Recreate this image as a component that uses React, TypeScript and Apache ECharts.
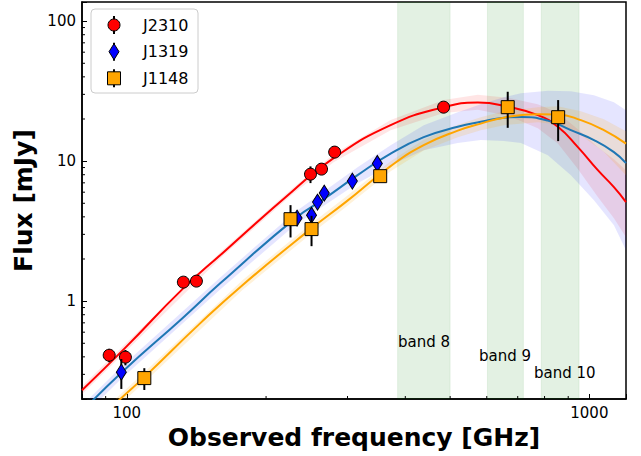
import React, { useEffect, useRef } from "react";
import * as echarts from "echarts";

// ---- axes ----
const X_MIN = 80;
const X_MAX = 1200;
const Y_MIN = 0.2;
const Y_MAX = 137;
const xTickLabels = ["100", "1000"];
const yTickLabels = ["1", "10", "100"];
const xMinorTicks = [90, 200, 300, 400, 500, 600, 700, 800, 900];
const yMinorTicks = [0.3, 0.4, 0.5, 0.6, 0.7, 0.8, 0.9, 2, 3, 4, 5, 6, 7, 8, 9, 20, 30, 40, 50, 60, 70, 80, 90];

// ---- ALMA bands ----
const almaBandNames = ["band 8", "band 9", "band 10"];
const almaBandLow = [385, 602, 787];
const almaBandHigh = [500, 720, 950];

// ---- observed points ----
const sourceNames = ["J2310", "J1319", "J1148"];

const j2310Freq = [91.6, 99.3, 132.5, 141.4, 249.5, 263.6, 281.4, 484];
const j2310Flux = [0.411, 0.398, 1.367, 1.39, 8.07, 8.77, 11.6, 24.3];
const j2310Err = [0.045, 0.05, 0.05, 0.05, 1.1, 0.5, 0.6, 1.0];

const j1319Freq = [97.3, 233.4, 250.8, 258.4, 267.2, 307.3, 348];
const j1319Flux = [0.311, 3.92, 4.11, 5.1, 5.91, 7.2, 9.63];
const j1319Err = [0.075, 0.3, 0.3, 0.35, 0.4, 0.5, 0.6];

const j1148Freq = [109.1, 225.9, 250.8, 353, 666, 856];
const j1148Flux = [0.282, 3.85, 3.27, 7.81, 24.3, 20.6];
const j1148Err = [0.05, 1.0, 0.8, 0.5, 7.0, 6.7];

// ---- fitted curves ----
const j2310FitFreq = [80, 99.3, 131.9, 161, 228.1, 279.9, 371.8, 484.2, 573.8, 666.2, 773.6, 854.8, 944.3, 1043, 1130, 1200];
const j2310FitFlux = [0.2313, 0.4655, 1.218, 2.202, 6.1, 10.5, 18.07, 24.3, 26.2, 24.5, 21.3, 17.6, 12.6, 8.62, 6.52, 5.1];

const j1319FitFreq = [80, 97.3, 131.9, 159.4, 231.5, 266.3, 315.4, 371.8, 438.4, 519.3, 582.3, 653.1, 711.1, 813.2, 912, 1023, 1130, 1200];
const j1319FitFlux = [0.1624, 0.3085, 0.756, 1.345, 3.916, 5.35, 7.94, 11.31, 14.84, 17.58, 19.09, 20.45, 20.69, 19.47, 16.65, 14.13, 11.6, 9.68];

const j1148FitFreq = [80, 96.2, 109.1, 144.2, 177.8, 249.5, 297.2, 371.8, 438.4, 519.3, 582.3, 653.1, 773.6, 854.8, 958.6, 1075, 1200];
const j1148FitFlux = [0.1104, 0.1963, 0.2866, 0.6966, 1.301, 3.268, 5.095, 9.21, 13.01, 16.51, 18.53, 20.45, 21.66, 21.56, 19.63, 16.65, 13.34];

// ---- uncertainty bands ----
const j2310BandFreq = [80, 99.3, 161, 228.1, 279.9, 371.8, 484.2, 573.8, 666.2, 773.6, 854.8, 944.3, 1043, 1130, 1200];
const j2310BandHigh = [0.2471, 0.497, 2.313, 6.4, 11.22, 19.7, 27.28, 29.85, 28.42, 25.54, 22.2, 16.93, 12.59, 10.33, 8.625];
const j2310BandLow = [0.2166, 0.4359, 2.096, 5.8, 9.837, 16.6, 22.03, 23.33, 21.13, 17.21, 13.34, 8.77, 5.534, 3.916, 2.865];

const j1319BandFreq = [80, 97.3, 159.4, 231.5, 315.4, 371.8, 438.4, 519.3, 582.3, 653.1, 711.1, 813.2, 912, 1023, 1130, 1200];
const j1319BandHigh = [0.1794, 0.3404, 1.484, 4.358, 9.06, 13.01, 18.07, 22.39, 25.54, 28.65, 30.6, 31.89, 31.62, 29.6, 26.38, 23.13];
const j1319BandLow = [0.1472, 0.2796, 1.218, 3.519, 6.965, 9.36, 11.98, 13.45, 14.13, 13.9, 13.45, 11.04, 7.943, 5.265, 3.49, 2.313];

const j1148BandFreq = [80, 109.1, 177.8, 249.5, 297.2, 371.8, 438.4, 519.3, 582.3, 653.1, 773.6, 854.8, 958.6, 1075, 1200];
const j1148BandHigh = [0.1199, 0.311, 1.41, 3.548, 5.534, 10, 14.24, 18.23, 20.62, 22.75, 24.3, 24.71, 22.75, 19.95, 16.38];
const j1148BandLow = [0.1017, 0.2638, 1.2, 3.01, 4.692, 8.483, 11.89, 14.84, 16.65, 18.07, 18.99, 18.38, 15.34, 11.6, 7.943];

const FONT = "DejaVu Sans";

function labelFmt(list: string[]) {
  return (v: number) => {
    const s = String(Math.round(v * 1000) / 1000);
    return list.includes(s) ? s : "";
  };
}

function bandSeries(xs: number[], hi: number[], lo: number[], fill: string, z: number) {
  return {
    type: "custom",
    coordinateSystem: "cartesian2d",
    clip: true,
    silent: true,
    z,
    data: [[xs[1], hi[1]]],
    renderItem: (_p: any, api: any) => {
      const pts: number[][] = [];
      xs.forEach((x, i) => pts.push(api.coord([x, hi[i]])));
      for (let i = xs.length - 1; i >= 0; i--) pts.push(api.coord([xs[i], lo[i]]));
      return { type: "polygon", shape: { points: pts }, style: { fill } };
    },
  };
}

function errSeries(xs: number[], ys: number[], es: number[], z: number) {
  return {
    type: "custom",
    coordinateSystem: "cartesian2d",
    silent: true,
    clip: true,
    z,
    data: xs.map((x, i) => [x, ys[i], es[i]]),
    encode: { x: 0, y: 1 },
    renderItem: (_p: any, api: any) => {
      const x = api.value(0);
      const y = api.value(1);
      const e = api.value(2);
      const a = api.coord([x, y + e]);
      const b = api.coord([x, Math.max(y - e, 1e-3)]);
      return {
        type: "line",
        shape: { x1: a[0], y1: a[1], x2: b[0], y2: b[1] },
        style: { stroke: "#000", lineWidth: 2 },
      };
    },
  };
}

function lineSeries(name: string, xs: number[], ys: number[], color: string, z: number) {
  return {
    name,
    type: "line",
    z,
    silent: true,
    smooth: 0.5,
    showSymbol: false,
    symbol: "none",
    data: xs.map((x, i) => [x, ys[i]]),
    lineStyle: { color, width: 2 },
  };
}

function scatterSeries(name: string, xs: number[], ys: number[], symbol: string, size: any, color: string, z: number) {
  return {
    name,
    type: "scatter",
    z,
    silent: true,
    symbol,
    symbolSize: size,
    data: xs.map((x, i) => [x, ys[i]]),
    itemStyle: { color, borderColor: "#000", borderWidth: 1, opacity: 1 },
  };
}

export default function App() {
  const ref = useRef<HTMLDivElement>(null);

  useEffect(() => {
    if (!ref.current) return;
    const chart = echarts.init(ref.current, null, { renderer: "svg" });

    const legendY = [25, 51.7, 78.3];
    const legendGraphics: any[] = [
      {
        type: "rect",
        shape: { x: 91, y: 9, width: 107, height: 84, r: 4 },
        style: { fill: "rgba(255,255,255,0.85)", stroke: "#cccccc", lineWidth: 1 },
        z: 100,
      },
    ];
    legendY.forEach((y, i) => {
      legendGraphics.push({
        type: "line",
        shape: { x1: 114, y1: y - 9, x2: 114, y2: y + 9 },
        style: { stroke: "#000", lineWidth: 2 },
        z: 101,
      });
      if (i === 0) {
        legendGraphics.push({ type: "circle", shape: { cx: 114, cy: y, r: 6 }, style: { fill: "#ff0000", stroke: "#000", lineWidth: 1 }, z: 102 });
      } else if (i === 1) {
        legendGraphics.push({
          type: "polygon",
          shape: { points: [[114, y - 8], [119, y], [114, y + 8], [109, y]] },
          style: { fill: "#0000ff", stroke: "#000", lineWidth: 1 },
          z: 102,
        });
      } else {
        legendGraphics.push({ type: "rect", shape: { x: 107.5, y: y - 6.5, width: 13, height: 13 }, style: { fill: "#ffa500", stroke: "#000", lineWidth: 1 }, z: 102 });
      }
      legendGraphics.push({
        type: "text",
        x: 143,
        y,
        style: { text: sourceNames[i], font: `16px "${FONT}"`, fill: "#000", textVerticalAlign: "middle", verticalAlign: "middle" },
        z: 102,
      });
    });

    const bandLabelPos = [
      [398, 342],
      [479, 356],
      [534, 373],
    ];
    const bandLabelGraphics = almaBandNames.map((t, i) => ({
      type: "text",
      x: bandLabelPos[i][0],
      y: bandLabelPos[i][1],
      style: { text: t, font: `15px "${FONT}"`, fill: "#000", verticalAlign: "middle", textVerticalAlign: "middle" },
      z: 50,
    }));

    const option: any = {
      animation: false,
      textStyle: { fontFamily: FONT },
      grid: {
        left: 82,
        top: 2,
        width: 544,
        height: 397,
        show: true,
        borderColor: "#000",
        borderWidth: 1.5,
        backgroundColor: "transparent",
      },
      xAxis: {
        type: "log",
        logBase: 10,
        min: X_MIN,
        max: X_MAX,
        name: "Observed frequency [GHz]",
        nameLocation: "middle",
        nameGap: 23,
        nameTextStyle: { fontSize: 25, fontWeight: "bold", color: "#000", fontFamily: FONT },
        axisLine: { show: true, lineStyle: { color: "#000", width: 1.5 } },
        axisTick: { show: true, inside: true, length: 5, lineStyle: { color: "#000", width: 1 } },
        axisLabel: { formatter: labelFmt(xTickLabels), fontSize: 15, color: "#000", margin: 6, fontFamily: FONT },
        splitLine: { show: false },
        minorTick: { show: false },
      },
      yAxis: {
        type: "log",
        logBase: 10,
        min: Y_MIN,
        max: Y_MAX,
        name: "Flux [mJy]",
        nameLocation: "middle",
        nameGap: 45,
        nameTextStyle: { fontSize: 25, fontWeight: "bold", color: "#000", fontFamily: FONT },
        axisLine: { show: true, lineStyle: { color: "#000", width: 1.5 } },
        axisTick: { show: true, inside: true, length: 5, lineStyle: { color: "#000", width: 1 } },
        axisLabel: { formatter: labelFmt(yTickLabels), fontSize: 15, color: "#000", margin: 6, fontFamily: FONT },
        splitLine: { show: false },
        minorTick: { show: false },
      },
      graphic: [...bandLabelGraphics, ...legendGraphics],
      series: [
        {
          type: "custom",
          coordinateSystem: "cartesian2d",
          silent: true,
          clip: true,
          z: 1,
          data: almaBandLow.map((lo) => [lo, 1]),
          renderItem: (p: any, api: any) => {
            const i = p.dataIndex;
            const a = api.coord([almaBandLow[i], Y_MAX]);
            const b = api.coord([almaBandHigh[i], Y_MIN]);
            return {
              type: "rect",
              shape: { x: a[0], y: a[1], width: b[0] - a[0], height: b[1] - a[1] },
              style: { fill: "rgba(0,128,0,0.11)", stroke: "rgba(0,128,0,0.08)", lineWidth: 1 },
            };
          },
        },
        bandSeries(j2310BandFreq, j2310BandHigh, j2310BandLow, "rgba(255,0,0,0.1)", 2),
        bandSeries(j1319BandFreq, j1319BandHigh, j1319BandLow, "rgba(0,0,255,0.1)", 2),
        bandSeries(j1148BandFreq, j1148BandHigh, j1148BandLow, "rgba(255,165,0,0.15)", 2),
        lineSeries("J2310 fit", j2310FitFreq, j2310FitFlux, "#ff0000", 3),
        lineSeries("J1319 fit", j1319FitFreq, j1319FitFlux, "#1f77b4", 3),
        lineSeries("J1148 fit", j1148FitFreq, j1148FitFlux, "#ffa500", 3),
        errSeries(j2310Freq, j2310Flux, j2310Err, 4),
        scatterSeries("J2310", j2310Freq, j2310Flux, "circle", 12, "#ff0000", 5),
        errSeries(j1319Freq, j1319Flux, j1319Err, 6),
        scatterSeries("J1319", j1319Freq, j1319Flux, "diamond", [10, 16], "#0000ff", 7),
        errSeries(j1148Freq, j1148Flux, j1148Err, 8),
        scatterSeries("J1148", j1148Freq, j1148Flux, "rect", 13, "#ffa500", 9),
        {
          type: "custom",
          coordinateSystem: "cartesian2d",
          silent: true,
          z: 20,
          data: xMinorTicks.map((v) => [v, 1]),
          renderItem: (_p: any, api: any) => {
            const c = api.coord([api.value(0), Y_MIN]);
            return { type: "line", shape: { x1: c[0], y1: c[1], x2: c[0], y2: c[1] - 3 }, style: { stroke: "#000", lineWidth: 1 } };
          },
        },
        {
          type: "custom",
          coordinateSystem: "cartesian2d",
          silent: true,
          z: 20,
          data: yMinorTicks.map((v) => [100, v]),
          renderItem: (_p: any, api: any) => {
            const c = api.coord([X_MIN, api.value(1)]);
            return { type: "line", shape: { x1: c[0], y1: c[1], x2: c[0] + 3, y2: c[1] }, style: { stroke: "#000", lineWidth: 1 } };
          },
        },
      ],
    };

    chart.setOption(option);
    return () => {
      chart.dispose();
    };
  }, []);

  return <div ref={ref} style={{ position: "fixed", left: 0, top: 0, width: 641, height: 456, background: "#fff" }} />;
}
